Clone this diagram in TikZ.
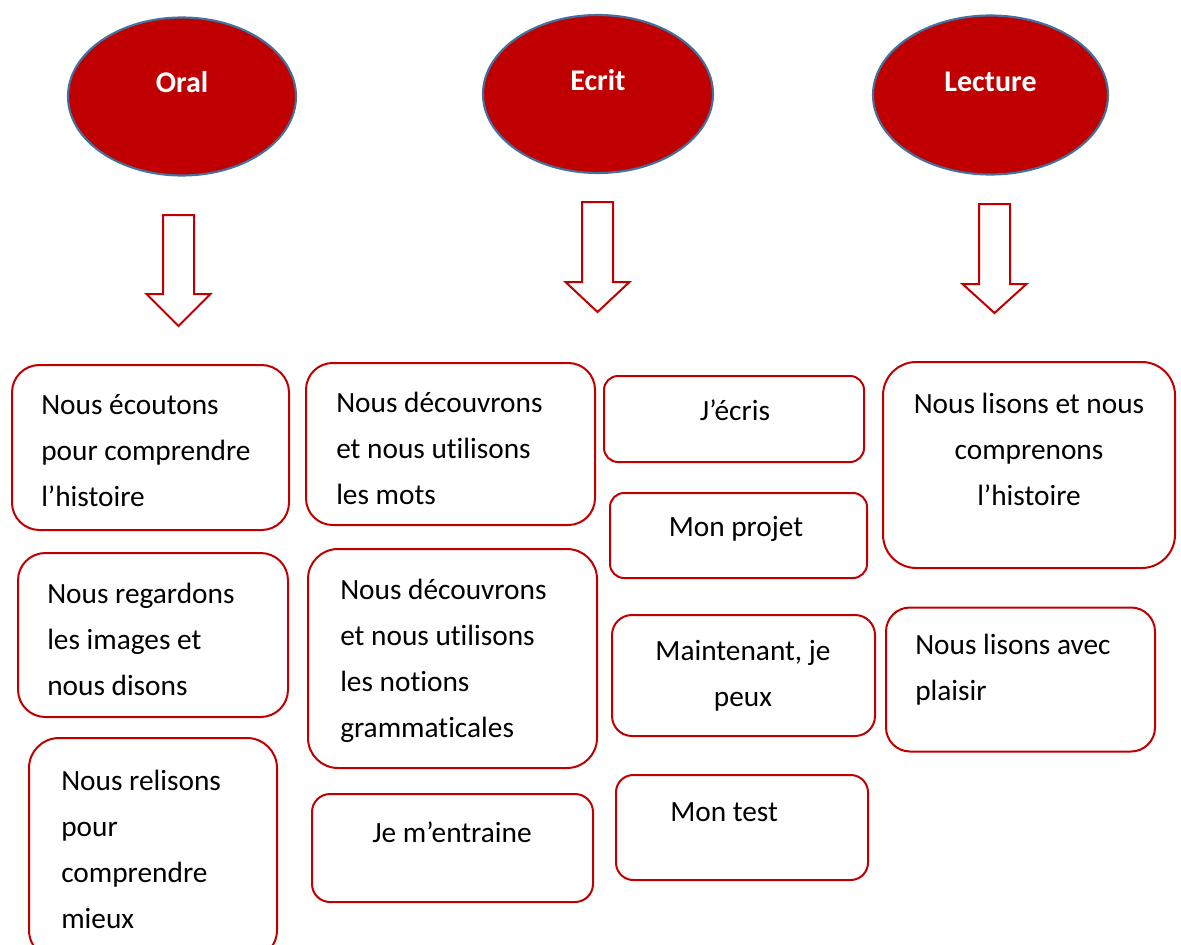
\documentclass[tikz,border=0pt]{standalone}
\usepackage{fontspec}
\setmainfont[Ligatures={NoCommon,NoContextual},Contextuals={NoAlternate}]{Carlito}
\usetikzlibrary{shapes.geometric}
\definecolor{dred}{HTML}{C00000}
\definecolor{eborder}{HTML}{41719C}
\begin{document}
\begin{tikzpicture}[x=0.75pt,y=-0.75pt,
  oval/.style={ellipse,draw=eborder,line width=1.6pt,fill=dred,inner sep=0pt},
  ovaltxt/.style={text=white,font=\fontsize{22.5}{27}\selectfont\bfseries,inner sep=0pt},
  box/.style={draw=dred,line width=1.5pt,inner sep=0pt},
  txt/.style={font=\fontsize{22}{34.5}\selectfont,inner sep=0pt},
  barrow/.style={draw=dred,line width=1.5pt,fill=white,line join=miter}]
\useasboundingbox (0,0) rectangle (1181,945);
% ellipses
\node[oval,minimum width=171pt,minimum height=118.5pt] (eoral) at (182,96.5) {};
\node[oval,minimum width=172.5pt,minimum height=118.5pt] (eecrit) at (598,94) {};
\node[oval,minimum width=176.25pt,minimum height=119.25pt] (electure) at (990.5,95) {};
\node[ovaltxt] (toral) at (182,82) {Oral};
\node[ovaltxt] (tecrit) at (598,80) {Ecrit};
\node[ovaltxt] (tlecture) at (990.5,82) {Lecture};
% block arrows
\foreach \cx/\top/\hb/\tip in {178.5/215/294/326, 597.5/202/282/312, 994.5/204/284/313}{
  \draw[barrow] (\cx-15.5,\top) -- (\cx+15.5,\top) -- (\cx+15.5,\hb) -- (\cx+32,\hb)
    -- (\cx,\tip) -- (\cx-32,\hb) -- (\cx-15.5,\hb) -- cycle;
}
% column 1
\node[box,rounded corners=20.6pt,minimum width=207.75pt,minimum height=123.75pt] (b1) at (150.5,447.5) {};
\node[txt,anchor=west,align=left] (t1) at (41,451) {Nous écoutons\\pour comprendre\\l’histoire};
\node[box,rounded corners=20.5pt,minimum width=202.5pt,minimum height=123pt] (b2) at (153,635) {};
\node[txt,anchor=west,align=left] (t2) at (47,639) {Nous regardons\\les images et\\nous disons};
\node[box,rounded corners=22.5pt,minimum width=186pt,minimum height=166.5pt] (b3) at (153,849) {};
\node[txt,anchor=west,align=left] (t3) at (61,849) {Nous relisons\\pour\\comprendre\\mieux};
% column 2
\node[box,rounded corners=20pt,minimum width=216.75pt,minimum height=121.5pt] (b4) at (450.5,444) {};
\node[txt,anchor=west,align=left] (t4) at (336,448) {Nous découvrons\\et nous utilisons\\les mots};
\node[box,rounded corners=22.5pt,minimum width=216.75pt,minimum height=164.25pt] (b5) at (452.5,658.5) {};
\node[txt,anchor=west,align=left] (t5) at (340,660.5) {Nous découvrons\\et nous utilisons\\les notions\\grammaticales};
\node[box,rounded corners=13.5pt,minimum width=210.75pt,minimum height=81pt] (b6) at (452.5,848) {};
\node[txt] (t6) at (452,832) {Je m’entraine};
% column 3
\node[box,rounded corners=10.5pt,minimum width=195pt,minimum height=64.5pt] (b7) at (734,419) {};
\node[txt] (t7) at (735,410) {J’écris};
\node[box,rounded corners=10.5pt,minimum width=192.75pt,minimum height=63.75pt] (b8) at (738.5,535.5) {};
\node[txt] (t8) at (736,529) {Mon projet};
\node[box,rounded corners=15pt,minimum width=197.25pt,minimum height=90.75pt] (b9) at (743.5,675.5) {};
\node[txt,align=center] (t9) at (743,676) {Maintenant, je\\peux};
\node[box,rounded corners=13pt,minimum width=189pt,minimum height=78.75pt] (b10) at (742,827.5) {};
\node[txt,anchor=west] (t10) at (670,812) {Mon test};
% column 4
\node[box,rounded corners=25pt,minimum width=219pt,minimum height=154.5pt] (b11) at (1029,465) {};
\node[txt,align=center] (t11) at (1029,449) {Nous lisons et nous\\comprenons\\l’histoire};
\node[box,rounded corners=18pt,minimum width=201.75pt,minimum height=108pt] (b12) at (1020.5,679.5) {};
\node[txt,anchor=west,align=left] (t12) at (915,670) {Nous lisons avec\\plaisir};
\end{tikzpicture}
\end{document}
